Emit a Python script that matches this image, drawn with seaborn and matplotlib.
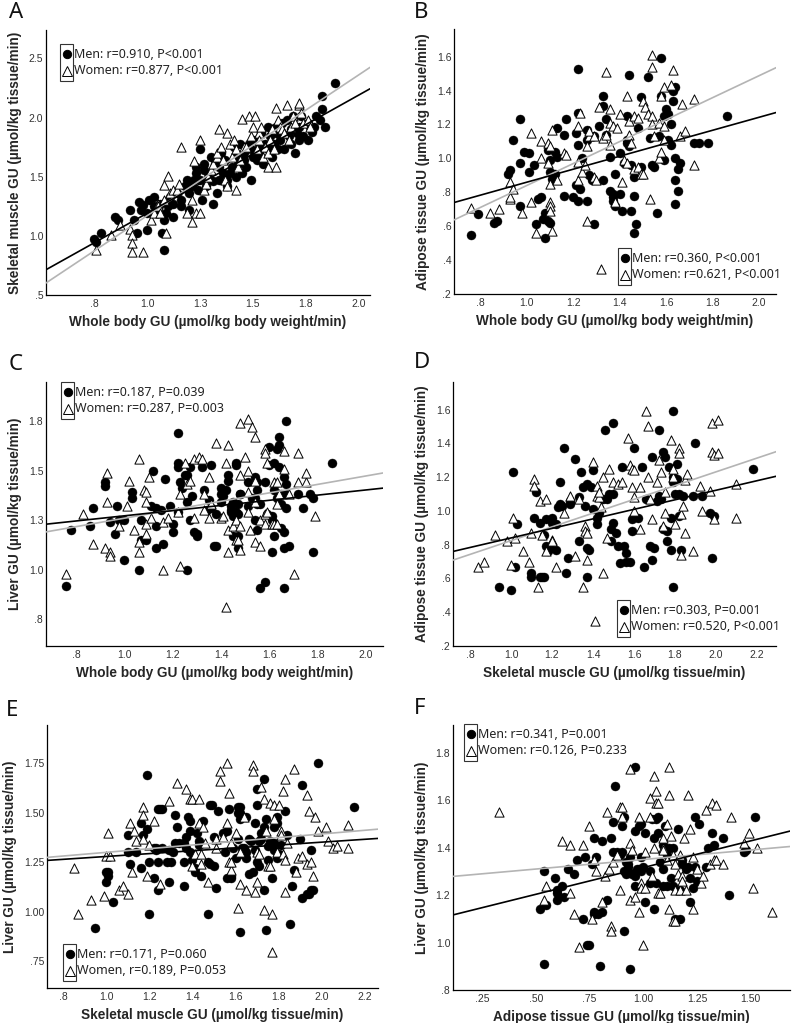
import numpy as np
import pandas as pd
import seaborn as sns
import matplotlib
matplotlib.use("Agg")
from matplotlib import pyplot as plt
from matplotlib.patches import Rectangle
from matplotlib.lines import Line2D

# ---- data ----
a_men = [(0.75,0.97),(0.76,0.95),(0.78,1.02),(0.85,1.16),(0.86,1.13),(0.92,1.22),(0.94,1.13),(0.95,1.02),(0.96,1.29),(0.97,1.22),
         (0.98,1.26),(1.00,1.05),(1.00,1.19),(1.01,1.30),(1.03,1.33),(1.03,1.25),(1.05,1.19),(1.06,1.27),(1.07,1.02),(1.08,0.88),
         (1.08,1.13),(1.09,1.19),(1.10,1.25),(1.11,1.33),(1.12,1.27),(1.12,1.16),(1.14,1.36),(1.16,1.30),(1.16,1.25),(1.18,1.42),
         (1.19,1.47),(1.20,1.22),(1.20,1.36),(1.21,1.42),(1.22,1.47),(1.23,1.53),(1.23,1.58),(1.24,1.39),(1.25,1.73),(1.25,1.47),
         (1.26,1.30),(1.27,1.56),(1.27,1.61),(1.28,1.42),(1.29,1.50),(1.30,1.67),(1.31,1.46),(1.31,1.27),(1.32,1.61),(1.33,1.36),
         (1.34,1.58),(1.34,1.47),(1.35,1.70),(1.36,1.53),(1.37,1.64),(1.38,1.42),(1.38,1.47),(1.39,1.53),(1.40,1.58),(1.41,1.75),
         (1.42,1.67),(1.42,1.50),(1.43,1.61),(1.44,1.78),(1.45,1.53),(1.46,1.70),(1.46,1.64),(1.47,1.58),(1.48,1.78),(1.49,1.73),
         (1.49,1.47),(1.50,1.67),(1.51,1.81),(1.52,1.64),(1.53,1.75),(1.53,1.70),(1.54,1.87),(1.55,1.61),(1.56,1.78),(1.57,1.92),
         (1.57,1.73),(1.58,1.84),(1.59,1.67),(1.60,1.78),(1.61,1.87),(1.61,1.92),(1.62,1.73),(1.63,1.81),(1.64,1.95),(1.64,1.87),
         (1.65,1.73),(1.66,1.98),(1.67,1.84),(1.68,1.78),(1.68,1.90),(1.69,2.01),(1.70,1.70),(1.71,1.87),(1.72,1.81),(1.72,1.92),
         (1.73,2.01),(1.74,1.84),(1.76,1.95),(1.76,1.81),(1.77,1.92),(1.78,1.88),(1.79,1.92),(1.80,2.01),(1.82,1.98),(1.83,2.07),
         (1.83,2.18),(1.84,1.92),(1.89,2.29)]
a_women = [(0.76,0.88),(0.83,1.01),(0.87,1.09),(0.92,1.06),(0.93,1.01),(0.93,0.94),(0.93,0.86),(0.98,0.86),(1.02,1.13),(1.03,1.19),
           (1.05,1.27),(1.05,1.25),(1.06,1.19),(1.08,1.43),(1.08,1.30),(1.09,1.02),(1.10,1.51),(1.11,1.36),(1.12,1.39),(1.14,1.39),
           (1.15,1.44),(1.16,1.75),(1.19,1.19),(1.21,1.12),(1.23,1.19),(1.25,1.19),(1.21,1.30),(1.22,1.63),(1.25,1.81),(1.27,1.39),
           (1.28,1.44),(1.29,1.50),(1.30,1.56),(1.31,1.61),(1.33,1.67),(1.33,1.70),(1.34,1.90),(1.35,1.75),(1.36,1.64),(1.37,1.47),
           (1.38,1.42),(1.38,1.87),(1.39,1.78),(1.40,1.67),(1.41,1.81),(1.42,1.39),(1.42,1.73),(1.43,1.58),(1.44,1.64),(1.45,1.99),
           (1.46,1.75),(1.47,1.75),(1.48,2.01),(1.49,1.84),(1.50,1.92),(1.51,2.01),(1.52,1.73),(1.53,1.87),(1.53,1.81),(1.54,1.92),
           (1.55,1.67),(1.56,1.75),(1.57,1.58),(1.57,1.70),(1.58,1.81),(1.59,1.90),(1.60,1.73),(1.61,1.58),(1.61,2.08),(1.62,1.98),
           (1.63,1.92),(1.64,1.90),(1.65,1.87),(1.66,2.11),(1.67,1.81),(1.68,1.92),(1.69,2.01),(1.70,1.95),(1.72,2.11),(1.72,2.12),
           (1.73,2.04),(1.74,1.95),(1.76,1.98),(1.77,1.92)]

b_men = [(0.76,0.55),(0.79,0.67),(0.86,0.62),(0.87,0.63),(0.92,0.91),(0.93,0.93),(0.97,1.23),(0.94,1.11),(0.97,0.72),(0.97,0.97),
         (0.99,1.04),(1.01,1.03),(1.01,0.92),(1.03,0.96),(1.04,0.61),(1.05,0.76),(1.06,0.77),(1.07,0.64),(1.08,0.53),(1.08,0.68),
         (1.09,0.63),(1.10,0.62),(1.09,1.05),(1.10,0.99),(1.11,0.88),(1.12,1.04),(1.12,0.91),(1.13,1.18),(1.13,1.01),(1.10,0.92),
         (1.16,1.14),(1.16,0.78),(1.17,1.23),(1.20,0.77),(1.21,0.84),(1.21,1.15),(1.22,0.75),(1.22,1.53),(1.22,1.27),(1.22,1.08),
         (1.23,0.82),(1.24,1.00),(1.26,1.17),(1.26,1.11),(1.26,0.75),(1.27,0.90),(1.28,0.87),(1.29,0.61),(1.29,1.13),(1.31,1.19),
         (1.33,1.37),(1.33,0.87),(1.33,1.31),(1.34,1.23),(1.34,1.14),(1.36,1.01),(1.36,0.81),(1.37,0.79),(1.37,0.75),(1.37,0.77),
         (1.38,0.72),(1.38,0.91),(1.40,1.03),(1.40,0.79),(1.41,0.69),(1.42,0.97),(1.43,1.11),(1.43,1.09),(1.44,1.49),(1.43,1.25),
         (1.44,1.07),(1.45,0.96),(1.45,0.69),(1.46,0.89),(1.46,0.78),(1.47,0.61),(1.46,0.56),(1.48,1.18),(1.49,0.95),(1.49,1.36),
         (1.52,1.48),(1.53,1.12),(1.54,0.96),(1.55,0.95),(1.56,0.68),(1.57,1.13),(1.58,1.59),(1.58,1.37),(1.59,0.99),(1.60,1.29),
         (1.61,1.26),(1.61,1.11),(1.62,1.08),(1.62,1.20),(1.63,1.40),(1.63,1.34),(1.64,0.87),(1.64,1.42),(1.64,0.73),(1.64,1.00),
         (1.65,0.94),(1.65,0.81),(1.66,0.97),(1.72,1.09),(1.74,1.09),(1.78,1.09),(1.86,1.25),(1.59,1.25)]
b_women = [(0.76,0.71),(0.84,0.68),(0.88,0.70),(0.93,0.76),(0.93,0.77),(0.93,0.86),(0.94,0.82),(0.98,0.68),(1.02,0.74),(1.02,1.15),
           (1.04,0.56),(1.06,1.10),(1.06,1.00),(1.09,1.09),(1.09,0.97),(1.10,0.74),(1.10,0.72),(1.10,1.07),(1.10,0.85),(1.10,0.69),
           (1.11,0.57),(1.11,1.17),(1.13,0.87),(1.16,1.03),(1.17,1.02),(1.23,1.27),(1.22,1.19),(1.22,0.87),(1.22,0.98),(1.24,0.92),
           (1.25,0.96),(1.26,1.07),(1.27,1.13),(1.27,1.16),(1.29,1.13),(1.26,0.63),(1.29,0.89),(1.30,0.87),(1.31,1.30),(1.33,1.12),
           (1.34,1.51),(1.34,1.14),(1.36,1.29),(1.36,1.21),(1.36,1.08),(1.37,1.19),(1.38,0.74),(1.39,1.18),(1.40,1.26),(1.41,0.86),
           (1.42,0.99),(1.43,1.37),(1.43,0.97),(1.44,1.14),(1.44,1.22),(1.45,1.09),(1.46,0.94),(1.46,1.25),(1.48,1.24),(1.48,0.95),
           (1.49,0.91),(1.50,0.91),(1.50,1.34),(1.51,1.30),(1.52,1.26),(1.53,0.76),(1.54,1.61),(1.54,1.54),(1.54,1.25),(1.54,1.20),
           (1.55,1.13),(1.57,1.21),(1.58,1.37),(1.57,1.00),(1.58,1.04),(1.59,1.42),(1.59,1.19),(1.59,1.11),(1.63,1.52),(1.62,1.43),
           (1.67,1.32),(1.66,1.13),(1.68,1.16),(1.72,0.96),(1.72,1.35),(1.32,0.35)]

c_men = [(0.76,0.92),(0.78,1.20),(0.86,1.22),(0.87,1.31),(0.92,1.44),(0.92,1.42),(0.94,1.24),(0.97,1.32),(0.96,1.18),(0.98,1.25),
         (1.00,1.25),(1.00,1.05),(1.03,1.39),(1.03,1.36),(1.06,1.00),(1.07,1.25),(1.07,1.15),(1.09,1.15),(1.11,1.32),(1.12,1.50),
         (1.13,1.22),(1.13,1.11),(1.13,1.31),(1.15,1.30),(1.16,1.13),(1.17,1.46),(1.19,1.32),(1.20,1.19),(1.20,1.23),(1.22,1.52),
         (1.22,1.69),(1.22,1.29),(1.22,1.54),(1.23,1.44),(1.24,1.41),(1.25,1.48),(1.26,1.48),(1.26,1.34),(1.26,1.00),(1.27,1.25),
         (1.27,1.52),(1.28,1.37),(1.29,1.19),(1.30,1.17),(1.30,1.18),(1.32,1.52),(1.33,1.40),(1.34,1.30),(1.35,1.35),(1.36,1.53),
         (1.36,1.31),(1.37,1.12),(1.38,1.12),(1.38,1.28),(1.40,1.34),(1.40,1.41),(1.40,1.38),(1.41,1.37),(1.42,1.40),(1.43,1.48),
         (1.43,1.45),(1.44,1.30),(1.44,1.32),(1.44,1.29),(1.45,1.34),(1.45,1.17),(1.45,1.27),(1.46,1.54),(1.46,1.53),(1.46,1.29),
         (1.47,1.28),(1.47,1.17),(1.47,1.33),(1.47,1.11),(1.48,1.38),(1.48,1.38),(1.51,1.44),(1.51,1.32),(1.53,1.36),(1.54,1.36),
         (1.54,1.47),(1.54,1.25),(1.55,1.20),(1.55,1.33),(1.55,1.40),(1.55,1.44),(1.56,1.33),(1.56,0.91),(1.58,1.44),(1.58,0.94),
         (1.59,1.28),(1.60,1.53),(1.60,1.62),(1.61,1.09),(1.61,1.25),(1.61,1.27),(1.62,1.17),(1.62,1.54),(1.62,1.40),(1.63,1.36),
         (1.63,1.61),(1.64,1.67),(1.64,1.63),(1.64,1.52),(1.65,1.33),(1.65,1.38),(1.65,1.21),(1.66,1.19),(1.66,1.11),(1.66,0.91),
         (1.66,1.47),(1.67,1.43),(1.67,1.75),(1.67,1.38),(1.67,1.31),(1.68,1.12),(1.72,1.38),(1.74,1.31),(1.77,1.38),(1.78,1.36),
         (1.78,1.09),(1.86,1.54)]
c_women = [(0.76,0.98),(0.83,1.28),(0.87,1.13),(0.92,1.11),(0.93,1.49),(0.93,1.34),(0.94,1.09),(0.94,1.07),(0.98,1.22),(1.01,1.32),
           (1.02,1.45),(1.04,1.20),(1.06,1.56),(1.06,1.09),(1.06,1.14),(1.08,1.40),(1.09,1.34),(1.09,1.39),(1.09,1.23),(1.09,1.18),
           (1.10,1.47),(1.11,1.26),(1.16,1.24),(1.16,1.00),(1.18,1.26),(1.22,1.29),(1.23,1.02),(1.23,1.38),(1.25,1.54),(1.26,1.43),
           (1.27,1.45),(1.29,1.26),(1.29,1.56),(1.31,1.57),(1.32,1.56),(1.33,1.30),(1.33,1.38),(1.35,1.47),(1.35,1.26),(1.36,1.33),
           (1.38,1.64),(1.40,1.26),(1.41,1.27),(1.42,1.54),(1.42,0.81),(1.43,1.63),(1.43,1.09),(1.43,1.20),(1.45,1.22),(1.46,1.25),
           (1.46,1.15),(1.47,1.15),(1.48,1.74),(1.48,1.48),(1.48,1.22),(1.48,1.10),(1.50,1.57),(1.51,1.76),(1.51,1.50),(1.51,1.29),
           (1.51,1.39),(1.52,1.20),(1.53,1.72),(1.54,1.67),(1.54,1.14),(1.54,1.45),(1.54,1.34),(1.56,1.25),(1.56,1.12),(1.58,1.61),
           (1.58,1.59),(1.58,1.28),(1.58,1.23),(1.59,1.54),(1.59,1.29),(1.61,1.23),(1.62,1.44),(1.62,1.23),(1.63,1.44),(1.63,1.23),
           (1.63,1.33),(1.64,1.38),(1.66,1.51),(1.66,1.60),(1.68,1.38),(1.70,0.98),(1.72,1.59),(1.72,1.44),(1.75,1.44),(1.75,1.49),
           (1.79,1.27)]

d_men = [(0.94,0.55),(1.00,0.53),(1.02,0.67),(1.01,1.23),(1.03,0.92),(1.10,0.61),(1.10,0.63),(1.11,0.96),(1.12,1.11),(1.14,0.61),
         (1.15,0.61),(1.16,0.61),(1.14,0.93),(1.16,0.86),(1.17,0.95),(1.17,0.79),(1.18,0.76),(1.19,0.78),(1.20,0.93),(1.20,0.96),
         (1.22,0.77),(1.22,0.92),(1.23,1.02),(1.24,1.17),(1.24,1.04),(1.25,1.03),(1.26,1.37),(1.27,0.63),(1.28,0.72),(1.29,1.04),
         (1.29,1.06),(1.31,1.31),(1.33,1.08),(1.33,0.82),(1.34,1.23),(1.35,1.14),(1.36,1.03),(1.37,0.61),(1.37,0.78),(1.37,1.16),
         (1.38,0.77),(1.39,1.14),(1.40,1.24),(1.40,1.01),(1.42,0.92),(1.42,0.96),(1.43,0.99),(1.45,1.07),(1.46,1.48),(1.47,1.07),
         (1.48,1.10),(1.49,0.89),(1.49,0.82),(1.50,1.52),(1.50,0.93),(1.50,1.10),(1.51,0.87),(1.52,0.79),(1.53,0.69),(1.54,1.26),
         (1.55,0.79),(1.56,0.70),(1.56,0.75),(1.58,0.70),(1.59,0.88),(1.59,0.95),(1.60,1.37),(1.62,0.96),(1.64,1.26),(1.65,0.67),
         (1.66,1.07),(1.68,0.79),(1.69,1.32),(1.69,0.71),(1.70,0.78),(1.71,1.06),(1.72,1.09),(1.72,1.48),(1.73,1.07),(1.74,0.89),
         (1.74,1.35),(1.75,1.32),(1.76,0.88),(1.76,0.82),(1.77,1.26),(1.78,0.96),(1.78,0.77),(1.79,1.17),(1.79,1.20),(1.79,1.59),
         (1.79,0.55),(1.80,1.10),(1.81,1.28),(1.81,1.19),(1.82,1.10),(1.82,0.97),(1.83,0.77),(1.84,1.09),(1.90,1.40),(1.89,1.09),
         (1.93,1.09),(1.97,0.99),(1.98,0.72),(1.99,0.97),(2.18,1.25)]
d_women = [(0.84,0.67),(0.87,0.70),(0.92,0.86),(0.98,0.82),(1.01,0.96),(1.00,0.68),(1.02,0.84),(1.06,0.76),(1.09,0.70),(1.10,0.87),
           (1.11,1.19),(1.11,1.15),(1.13,0.55),(1.14,1.06),(1.17,1.07),(1.15,0.86),(1.17,0.76),(1.20,0.83),(1.20,0.82),(1.22,0.67),
           (1.26,0.99),(1.29,1.09),(1.31,0.73),(1.33,1.07),(1.35,0.55),(1.36,0.91),(1.36,0.88),(1.37,0.87),(1.37,0.71),(1.40,1.29),
           (1.41,0.35),(1.42,1.15),(1.42,1.09),(1.43,1.08),(1.43,1.11),(1.44,1.02),(1.45,1.20),(1.45,0.63),(1.47,0.84),(1.48,1.25),
           (1.50,1.17),(1.52,1.16),(1.54,1.17),(1.57,1.43),(1.58,1.27),(1.59,1.25),(1.59,1.14),(1.60,1.24),(1.60,1.08),(1.60,1.00),
           (1.63,0.89),(1.63,1.14),(1.66,1.59),(1.67,1.50),(1.67,1.20),(1.68,1.07),(1.69,0.95),(1.71,1.17),(1.72,1.30),(1.73,1.23),
           (1.74,0.91),(1.75,0.99),(1.75,1.11),(1.78,1.42),(1.79,1.20),(1.79,1.25),(1.80,0.92),(1.82,1.37),(1.82,1.34),(1.83,0.74),
           (1.83,0.98),(1.84,1.03),(1.85,1.18),(1.85,0.87),(1.86,1.22),(1.89,0.76),(1.92,1.15),(1.93,1.00),(1.97,1.12),(1.98,1.52),
           (1.98,1.35),(1.99,1.33),(1.99,0.95),(2.01,1.34),(2.01,1.54),(2.10,1.16),(2.10,0.96)]

e_men = [(0.95,0.92),(1.00,1.20),(1.01,1.20),(1.00,1.15),(1.01,1.18),(1.03,1.05),(1.10,1.30),(1.10,1.39),(1.11,1.24),(1.14,1.30),
         (1.16,1.22),(1.16,1.45),(1.17,1.39),(1.19,1.42),(1.19,1.69),(1.20,0.99),(1.20,1.25),(1.22,1.17),(1.22,1.32),(1.23,1.31),
         (1.23,1.32),(1.24,1.11),(1.24,1.25),(1.24,1.52),(1.25,1.52),(1.26,1.52),(1.26,1.32),(1.28,1.25),(1.29,1.15),(1.29,1.31),
         (1.30,1.25),(1.31,1.30),(1.32,1.35),(1.32,1.49),(1.33,1.43),(1.34,1.35),(1.36,1.35),(1.36,1.13),(1.36,1.25),(1.37,1.32),
         (1.37,1.38),(1.38,1.48),(1.39,1.46),(1.39,1.41),(1.39,1.30),(1.40,1.26),(1.41,1.20),(1.41,1.22),(1.42,1.40),(1.43,1.36),
         (1.43,1.34),(1.44,1.18),(1.45,1.46),(1.47,1.25),(1.47,0.99),(1.48,1.24),(1.48,1.54),(1.49,1.54),(1.50,1.38),(1.50,1.23),
         (1.51,1.12),(1.52,1.51),(1.54,1.40),(1.55,1.30),(1.56,1.17),(1.56,1.41),(1.57,1.52),(1.58,1.18),(1.58,1.17),(1.59,1.32),
         (1.60,1.27),(1.61,1.53),(1.61,1.50),(1.61,1.37),(1.62,1.53),(1.62,1.47),(1.62,1.50),(1.63,1.32),(1.63,1.29),(1.62,0.90),
         (1.64,1.32),(1.65,1.30),(1.65,1.48),(1.66,1.19),(1.65,1.27),(1.66,1.37),(1.67,1.36),(1.68,1.20),(1.69,1.31),(1.69,1.45),
         (1.70,1.62),(1.70,1.25),(1.70,1.54),(1.71,1.36),(1.71,1.23),(1.72,1.37),(1.72,1.40),(1.73,1.11),(1.73,1.43),(1.73,1.67),
         (1.74,1.47),(1.74,0.91),(1.75,1.33),(1.75,1.26),(1.76,1.36),(1.77,1.17),(1.78,1.43),(1.78,1.35),(1.78,1.31),(1.79,1.48),
         (1.79,1.27),(1.79,1.45),(1.80,1.29),(1.81,1.34),(1.83,1.51),(1.84,1.39),(1.85,0.94),(1.86,1.13),(1.87,1.21),(1.90,1.37),
         (1.91,1.64),(1.91,1.07),(1.93,1.09),(1.94,1.09),(1.95,1.31),(1.95,1.11),(1.96,1.11),(1.98,1.75),(2.15,1.53)]
e_women = [(0.85,1.22),(0.87,0.99),(0.93,1.06),(0.99,1.08),(1.01,1.40),(1.00,1.28),(1.02,1.28),(1.06,1.11),(1.08,1.13),(1.10,1.09),
           (1.11,1.45),(1.12,1.20),(1.13,1.41),(1.14,1.36),(1.17,1.53),(1.17,1.49),(1.17,1.37),(1.19,1.18),(1.20,1.34),(1.22,1.46),
           (1.25,1.14),(1.29,1.56),(1.33,1.65),(1.37,1.62),(1.39,1.57),(1.40,1.57),(1.40,1.23),(1.41,1.29),(1.43,1.45),(1.43,1.57),
           (1.44,1.29),(1.44,1.24),(1.45,1.43),(1.46,1.35),(1.47,1.15),(1.51,1.37),(1.51,1.32),(1.53,1.66),(1.53,1.71),(1.54,1.38),
           (1.56,1.45),(1.56,1.75),(1.57,1.60),(1.57,1.25),(1.58,1.35),(1.58,1.21),(1.58,1.25),(1.60,1.40),(1.61,1.02),(1.62,1.30),
           (1.62,1.14),(1.64,1.48),(1.65,1.11),(1.68,1.74),(1.68,1.71),(1.69,1.10),(1.70,1.15),(1.70,1.30),(1.71,1.29),(1.72,1.63),
           (1.73,1.57),(1.73,1.01),(1.74,1.41),(1.75,1.23),(1.76,1.55),(1.76,1.23),(1.77,0.99),(1.78,1.54),(1.78,1.47),(1.79,1.30),
           (1.80,1.54),(1.81,1.41),(1.81,1.39),(1.82,1.61),(1.82,1.29),(1.83,1.67),(1.83,1.26),(1.83,1.10),(1.84,1.35),(1.87,1.72),
           (1.88,1.20),(1.89,1.27),(1.91,1.28),(1.93,1.59),(1.93,1.24),(1.94,1.51),(1.95,1.25),(1.96,1.18),(1.97,1.48),(1.98,1.41),
           (2.02,1.43),(2.03,1.36),(2.05,1.32),(2.12,1.44),(2.12,1.32),(2.07,1.33),(1.77,0.80)]

f_men = [(0.52,1.14),(0.54,1.30),(0.55,1.16),(0.54,0.91),(0.59,1.27),(0.60,1.21),(0.60,1.22),(0.60,1.18),(0.62,1.24),(0.63,1.19),
         (0.65,1.31),(0.69,1.35),(0.68,1.29),(0.72,1.10),(0.73,1.36),(0.74,0.99),(0.75,0.99),(0.76,1.33),(0.77,1.44),(0.77,1.13),
         (0.77,1.12),(0.78,1.36),(0.79,1.12),(0.81,1.43),(0.81,1.13),(0.83,1.18),(0.85,1.44),(0.86,1.38),(0.86,1.51),(0.87,1.66),
         (0.88,1.38),(0.89,1.37),(0.90,1.38),(0.90,1.49),(0.91,1.30),(0.91,1.05),(0.91,1.53),(0.92,1.34),(0.92,1.29),(0.93,1.32),
         (0.93,1.33),(0.94,1.36),(0.95,1.29),(0.96,1.24),(0.96,1.47),(0.96,1.74),(0.96,1.28),(0.97,1.31),(0.98,1.49),(0.98,1.31),
         (0.99,1.50),(0.99,1.36),(0.99,1.30),(1.00,1.32),(1.01,1.17),(1.01,1.46),(1.03,1.30),(1.03,1.25),(1.04,1.52),(1.05,1.44),
         (1.05,1.14),(1.06,1.25),(1.06,1.52),(1.07,1.53),(1.07,1.46),(1.08,1.34),(1.09,1.24),(1.09,1.41),(1.09,1.31),(1.10,1.49),
         (1.11,1.24),(1.11,1.37),(1.12,1.40),(1.13,1.27),(1.14,1.40),(1.14,1.24),(1.15,1.10),(1.16,1.48),(1.17,1.10),(1.17,1.22),
         (1.18,1.35),(1.18,1.33),(1.20,1.31),(1.21,1.32),(1.22,1.27),(1.22,1.17),(1.23,1.23),(1.24,1.53),(1.24,1.32),(1.25,1.26),
         (1.26,1.50),(1.29,1.32),(1.30,1.40),(1.32,1.46),(1.33,1.41),(1.37,1.44),(1.40,1.20),(1.47,1.38),(1.48,1.39),(1.52,1.53),
         (0.80,0.90),(0.94,0.89)]
f_women = [(0.33,1.55),(0.54,1.18),(0.55,1.24),(0.62,1.43),(0.66,1.41),(0.66,1.21),(0.68,1.12),(0.70,0.98),(0.72,1.41),(0.75,1.49),
           (0.76,1.10),(0.77,1.35),(0.78,1.30),(0.81,1.17),(0.82,1.28),(0.83,1.55),(0.84,1.31),(0.85,1.07),(0.85,1.05),(0.86,1.34),
           (0.88,1.37),(0.89,1.22),(0.89,1.57),(0.90,1.53),(0.90,1.57),(0.94,1.73),(0.94,1.18),(0.94,1.42),(0.95,1.39),(0.96,1.19),
           (0.98,1.53),(0.98,1.13),(0.99,1.25),(0.99,1.23),(1.00,0.99),(1.01,1.23),(1.01,1.38),(1.03,1.61),(1.03,1.53),(1.04,1.28),
           (1.05,1.40),(1.05,1.70),(1.06,1.59),(1.06,1.64),(1.07,1.59),(1.07,1.21),(1.08,1.21),(1.09,1.40),(1.09,1.44),(1.09,1.39),
           (1.11,1.35),(1.11,1.50),(1.12,1.74),(1.12,1.62),(1.12,1.14),(1.13,1.45),(1.14,1.37),(1.14,1.09),(1.15,1.09),(1.15,1.22),
           (1.15,1.33),(1.16,1.29),(1.17,1.22),(1.17,1.37),(1.18,1.28),(1.18,1.26),(1.19,1.44),(1.20,1.22),(1.21,1.62),(1.22,1.48),
           (1.23,1.14),(1.23,1.36),(1.25,1.31),(1.27,1.25),(1.28,1.28),(1.29,1.56),(1.31,1.33),(1.32,1.59),(1.33,1.35),(1.34,1.35),
           (1.34,1.58),(1.37,1.33),(1.41,1.53),(1.47,1.42),(1.49,1.46),(1.51,1.23),(1.53,1.40),(1.60,1.13)]

# axis ticks and their (SPSS-rounded) labels
a_xticks, a_xlabels = [0.75, 1.0, 1.25, 1.5, 1.75, 2.0], ['.8', '1.0', '1.3', '1.5', '1.8', '2.0']
a_yticks, a_ylabels = [0.5, 1.0, 1.5, 2.0, 2.5], ['.5', '1.0', '1.5', '2.0', '2.5']
wb_xticks, wb_xlabels = [0.8, 1.0, 1.2, 1.4, 1.6, 1.8, 2.0], ['.8', '1.0', '1.2', '1.4', '1.6', '1.8', '2.0']
sm_xticks, sm_xlabels = [0.8, 1.0, 1.2, 1.4, 1.6, 1.8, 2.0, 2.2], ['.8', '1.0', '1.2', '1.4', '1.6', '1.8', '2.0', '2.2']
at_yticks, at_ylabels = [0.2, 0.4, 0.6, 0.8, 1.0, 1.2, 1.4, 1.6], ['.2', '.4', '.6', '.8', '1.0', '1.2', '1.4', '1.6']
c_yticks, c_ylabels = [0.75, 1.0, 1.25, 1.5, 1.75], ['.8', '1.0', '1.3', '1.5', '1.8']
e_yticks, e_ylabels = [0.75, 1.0, 1.25, 1.5, 1.75], ['.75', '1.00', '1.25', '1.50', '1.75']
f_xticks, f_xlabels = [0.25, 0.5, 0.75, 1.0, 1.25, 1.5], ['.25', '.50', '.75', '1.00', '1.25', '1.50']
f_yticks, f_ylabels = [0.8, 1.0, 1.2, 1.4, 1.6, 1.8], ['.8', '1.0', '1.2', '1.4', '1.6', '1.8']

wb_label = "Whole body GU (µmol/kg body weight/min)"
sm_label = "Skeletal muscle GU (µmol/kg tissue/min)"
at_label = "Adipose tissue GU (µmol/kg tissue/min)"
lv_label = "Liver GU (µmol/kg tissue/min)"

legend_texts = {
    "A": ["Men: r=0.910, P<0.001", "Women: r=0.877, P<0.001"],
    "B": ["Men: r=0.360, P<0.001", "Women: r=0.621, P<0.001"],
    "C": ["Men: r=0.187, P=0.039", "Women: r=0.287, P=0.003"],
    "D": ["Men: r=0.303, P=0.001", "Women: r=0.520, P<0.001"],
    "E": ["Men: r=0.171, P=0.060", "Women, r=0.189, P=0.053"],
    "F": ["Men: r=0.341, P=0.001", "Women: r=0.126, P=0.233"],
}

# ---- layout (pixels in a 793x1023 figure) ----
W, H = 793, 1023
panels = [
    # letter, men, women, xlabel, ylabel, xticks, xticklabels, yticks, yticklabels, xlim, ylim, axes box px (l, t, r, b), legend px (l, t)
    ("A", a_men, a_women, wb_label, sm_label, a_xticks, a_xlabels, a_yticks, a_ylabels, (0.521, 2.055), (0.5, 2.74), (46, 30, 370, 295), (60, 44)),
    ("B", b_men, b_women, wb_label, at_label, wb_xticks, wb_xlabels, at_yticks, at_ylabels, (0.687, 2.073), (0.2, 1.763), (454, 29, 776, 294), (618, 248)),
    ("C", c_men, c_women, wb_label, lv_label, wb_xticks, wb_xlabels, c_yticks, c_ylabels, (0.676, 2.07), (0.615, 1.947), (46, 382, 383, 646), (61, 382)),
    ("D", d_men, d_women, sm_label, at_label, sm_xticks, sm_xlabels, at_yticks, at_ylabels, (0.717, 2.293), (0.2, 1.763), (453, 382, 776, 646), (617, 600)),
    ("E", e_men, e_women, sm_label, lv_label, sm_xticks, sm_xlabels, e_yticks, e_ylabels, (0.726, 2.26), (0.616, 1.943), (47, 725, 378, 988), (63, 944)),
    ("F", f_men, f_women, at_label, lv_label, f_xticks, f_xlabels, f_yticks, f_ylabels, (0.115, 1.683), (0.8, 1.917), (453, 725, 790, 990), (464, 724)),
]
letter_pos = {"A": (9, 12), "B": (414, 12), "C": (9, 364), "D": (414, 362), "E": (6, 710), "F": (414, 708)}

sns.set_theme(style="white")
plt.rcParams['font.family'] = ['Liberation Sans', 'DejaVu Sans']

fig = plt.figure(figsize=(W / 100, H / 100), dpi=100)


def px_box(l, t, r, b):
    return [l / W, 1 - b / H, (r - l) / W, (b - t) / H]


def spss_legend(left, top, texts):
    # SPSS style: the frame only wraps the marker column
    fig.add_artist(Rectangle((left / W, 1 - (top + 37) / H), 13 / W, 37 / H, transform=fig.transFigure,
                             fill=False, edgecolor="#333333", lw=0.8))
    for i, (txt, mk) in enumerate(zip(texts, ["o", "^"])):
        yy = 1 - (top + 10 + 17 * i) / H
        fc = "black" if mk == "o" else "white"
        fig.add_artist(Line2D([(left + 6.5) / W], [yy], marker=mk, markersize=6.0 if mk == "o" else 6.6,
                              markerfacecolor=fc, markeredgecolor="black", markeredgewidth=0.7,
                              transform=fig.transFigure))
        fig.text((left + 14) / W, yy, txt, ha="left", va="center", fontsize=9.0,
                 family=["Noto Sans", "DejaVu Sans"], color="#222222")


for (letter, men, women, xlab, ylab, xt, xtl, yt, ytl, xlim, ylim, box, leg) in panels:
    ax = fig.add_axes(px_box(*box))
    m = pd.DataFrame(men, columns=["x", "y"])
    w = pd.DataFrame(women, columns=["x", "y"])
    ax.set_xlim(*xlim)
    ax.set_ylim(*ylim)

    sns.scatterplot(data=m, x="x", y="y", ax=ax, marker="o", s=42, color="black",
                    edgecolor="black", linewidth=0.3, zorder=2)
    sns.scatterplot(data=w, x="x", y="y", ax=ax, marker="^", s=44, facecolor="white",
                    edgecolor="black", linewidth=0.7, zorder=3)
    # fit lines run across the whole axis
    sns.regplot(data=w, x="x", y="y", ax=ax, scatter=False, ci=None, truncate=False,
                color="#b4b4b4", line_kws={"lw": 1.2, "zorder": 4})
    sns.regplot(data=m, x="x", y="y", ax=ax, scatter=False, ci=None, truncate=False,
                color="black", line_kws={"lw": 1.2, "zorder": 5})
    ax.set_xlim(*xlim)
    ax.set_ylim(*ylim)

    ax.set_xticks(xt)
    ax.set_xticklabels(xtl)
    ax.set_yticks(yt)
    ax.set_yticklabels(ytl)
    ax.tick_params(length=0, labelsize=7.5, labelcolor="#333333")
    ax.tick_params(axis="x", pad=3)
    ax.tick_params(axis="y", pad=2)
    ax.set_xlabel(xlab, fontsize=9.8, fontweight="bold", labelpad=4)
    ax.set_ylabel(ylab, fontsize=9.8, fontweight="bold", labelpad=5)
    for side in ["top", "right"]:
        ax.spines[side].set_visible(False)
    for side in ["left", "bottom"]:
        ax.spines[side].set_color("black")
        ax.spines[side].set_linewidth(0.9)

    spss_legend(leg[0], leg[1], legend_texts[letter])
    lx, ly = letter_pos[letter]
    fig.text(lx / W, 1 - ly / H, letter, fontsize=16, va="center", ha="left",
             family=["Noto Sans", "DejaVu Sans"], color="#111111")

fig.savefig("out.png", dpi=100)
